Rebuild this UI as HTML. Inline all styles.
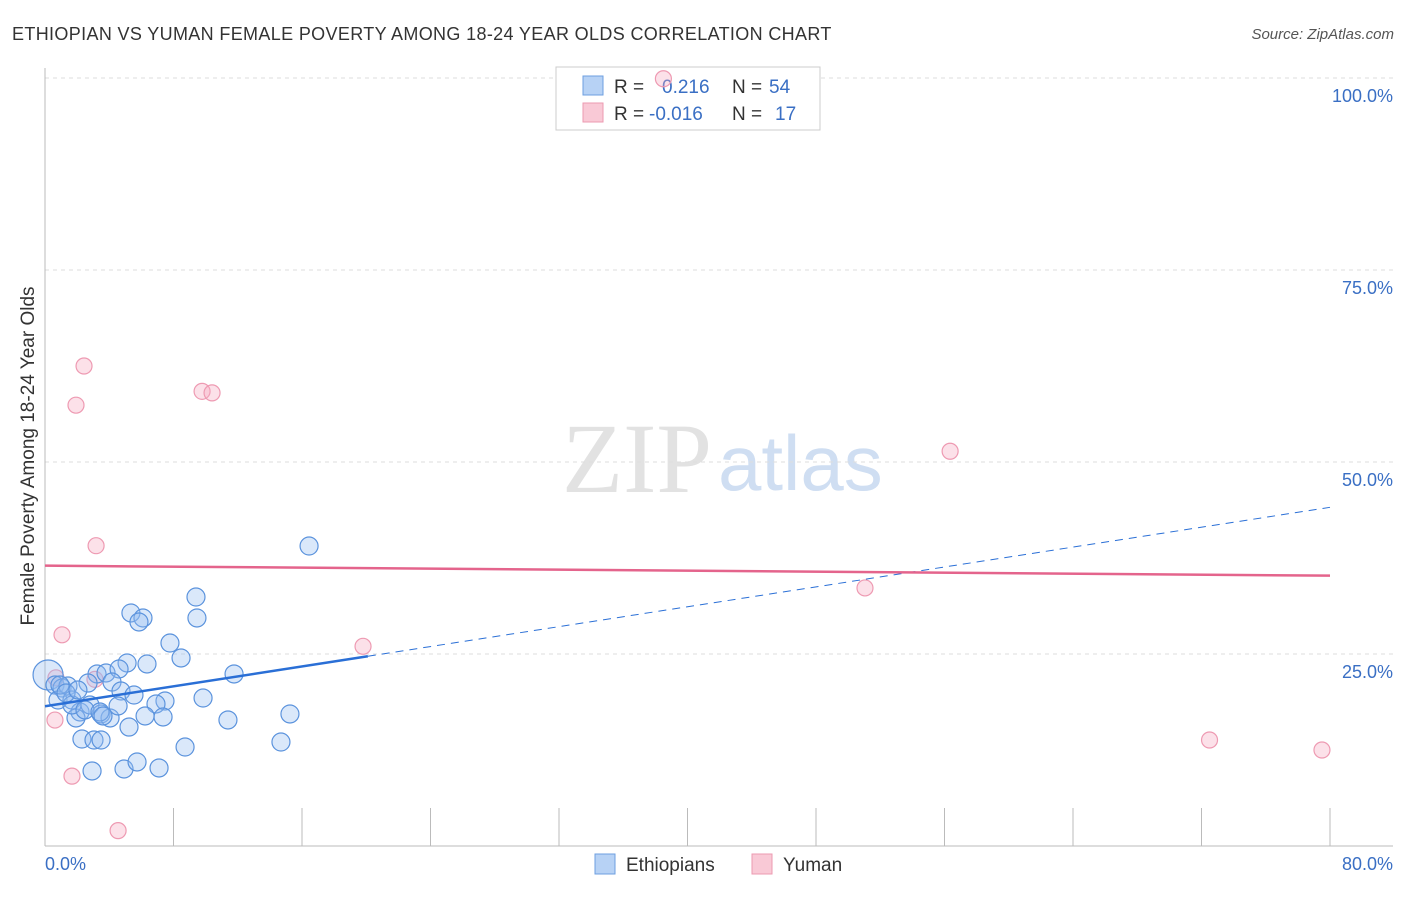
<!DOCTYPE html>
<html><head><meta charset="utf-8"><style>
body{margin:0;background:#fff;font-family:"Liberation Sans",sans-serif}
</style></head><body>
<svg width="1406" height="892" xmlns="http://www.w3.org/2000/svg" id="chart" font-family="Liberation Sans, sans-serif">
<text x="12" y="40" font-size="18" fill="#333" letter-spacing="0.35">ETHIOPIAN VS YUMAN FEMALE POVERTY AMONG 18-24 YEAR OLDS CORRELATION CHART</text>
<text x="1394" y="39" font-size="15" fill="#555" text-anchor="end" font-style="italic">Source: ZipAtlas.com</text>
<text x="712" y="492" font-size="100" fill="#e2e2e2" text-anchor="end" font-family="Liberation Serif, serif">ZIP</text>
<text x="718" y="490" font-size="78" fill="#cfdef2">atlas</text>
<g id="grid"></g><g id="axes"></g>
<text transform="translate(34,456) rotate(-90)" font-size="19" fill="#333" text-anchor="middle">Female Poverty Among 18-24 Year Olds</text>
<g>
<rect x="556" y="67" width="264" height="63" fill="#fff" stroke="#ccc"/>
<rect x="583" y="76" width="20" height="19" fill="#b7d2f5" stroke="#6e9fe0"/>
<rect x="583" y="103" width="20" height="19" fill="#f9c9d6" stroke="#ec9ab0"/>
<text x="614" y="93" font-size="19" fill="#333">R = <tspan fill="#3a6fc4" x="662">0.216</tspan><tspan fill="#333" x="732">N = </tspan><tspan fill="#3a6fc4" x="769">54</tspan></text>
<text x="614" y="120" font-size="19" fill="#333">R = <tspan fill="#3a6fc4" x="649">-0.016</tspan><tspan fill="#333" x="732">N = </tspan><tspan fill="#3a6fc4" x="775">17</tspan></text>
</g>
<g id="marks"></g>
<g>
<rect x="595" y="854" width="20" height="20" fill="#b7d2f5" stroke="#6e9fe0"/>
<text x="626" y="871" font-size="19" fill="#333">Ethiopians</text>
<rect x="752" y="854" width="20" height="20" fill="#f9c9d6" stroke="#ec9ab0"/>
<text x="783" y="871" font-size="19" fill="#333">Yuman</text>
</g>
</svg>
<script>
const blueX=[16.44,9.40,5.35,6.10,5.85,9.46,7.78,8.47,6.35,5.11,3.24,3.80,4.61,4.17,4.73,5.54,7.47,6.91,9.84,11.77,0.19,0.62,1.06,1.43,0.81,1.68,2.68,2.18,2.80,3.49,4.05,4.55,6.23,7.35,5.23,2.30,3.05,3.49,11.39,15.25,8.72,14.69,2.93,4.92,5.73,7.10,1.93,1.68,0.93,2.49,1.31,2.05,3.42,3.61];
const blueY=[39.06,32.42,30.34,29.69,29.17,29.69,26.43,24.48,23.70,23.83,22.40,22.53,23.05,21.35,20.18,19.66,18.88,18.49,19.27,22.40,22.27,20.96,20.57,20.83,19.01,19.01,21.22,17.45,18.36,17.19,16.67,18.23,16.93,16.80,15.49,13.93,13.80,13.80,16.41,17.19,12.89,13.54,9.77,10.03,10.94,10.16,16.67,18.36,20.96,17.71,19.92,20.31,17.45,16.93];
const pinkX=[2.43,1.93,9.78,10.40,56.35,3.18,51.05,1.06,19.80,3.11,0.68,0.62,1.68,4.55,72.5,79.5,38.5];
const pinkY=[62.5,57.4,59.2,59.0,51.4,39.1,33.6,27.5,26.0,21.7,21.9,16.4,9.1,2.0,13.8,12.5,99.9];
const yTicks=[25,50,75,100];
const yTickLabels=["25.0%","50.0%","75.0%","100.0%"];
const xTicks=[0,8,16,24,32,40,48,56,64,72,80];
const blueTrend=[18.2,44.1];
const pinkTrend=[36.5,35.2];
const NS="http://www.w3.org/2000/svg";
const X=v=>45+v/80*1285, Y=v=>846-v/100*768;
function mk(t,a,p){const e=document.createElementNS(NS,t);for(const k in a)e.setAttribute(k,a[k]);document.getElementById(p).appendChild(e);return e;}
yTicks.forEach((t,i)=>{
 const l=mk('line',{x1:45,x2:1393,y1:Y(t),y2:Y(t),stroke:'#ddd','stroke-dasharray':'4,4'},'grid');
 
 
 const tx=mk('text',{x:1393,y:Y(t)+24,'font-size':18,fill:'#3a6fc4','text-anchor':'end'},'grid');
 tx.textContent=yTickLabels[i];
 
 
});
let ax=mk('line',{x1:45,x2:45,y1:68,y2:846,stroke:'#bbb'},'axes');


ax=mk('line',{x1:45,x2:1393,y1:846,y2:846,stroke:'#bbb'},'axes');


xTicks.forEach(t=>{const l=mk('line',{x1:X(t),x2:X(t),y1:808,y2:846,stroke:'#bbb'},'axes');
 
 });
let t0=mk('text',{x:45,y:870,'font-size':18,fill:'#3a6fc4'},'axes');t0.textContent='0.0%';


t0=mk('text',{x:1393,y:870,'font-size':18,fill:'#3a6fc4','text-anchor':'end'},'axes');t0.textContent='80.0%';


pinkX.forEach((x,i)=>{const c=mk('circle',{cx:X(x),cy:Y(pinkY[i]),r:8,fill:'rgba(246,170,192,0.35)',stroke:'#ee9ab2','stroke-width':1.2},'marks');
 
 });
blueX.forEach((x,i)=>{const c=mk('circle',{cx:X(x),cy:Y(blueY[i]),r:i==20?15:9,fill:'rgba(150,190,240,0.35)',stroke:'#5b93dd','stroke-width':1.2},'marks');
 
 });
const bAt=v=>blueTrend[0]+(blueTrend[1]-blueTrend[0])*v/80;
let tl=mk('line',{x1:X(0),y1:Y(bAt(0)),x2:X(20.1),y2:Y(bAt(20.1)),stroke:'#2a6fd6','stroke-width':2.5},'marks');


tl=mk('line',{x1:X(20.1),y1:Y(bAt(20.1)),x2:X(80),y2:Y(bAt(80)),stroke:'#2a6fd6','stroke-width':1,'stroke-dasharray':'8,6'},'marks');


tl=mk('line',{x1:X(0),y1:Y(pinkTrend[0]),x2:X(80),y2:Y(pinkTrend[1]),stroke:'#e4648c','stroke-width':2.5},'marks');


</script>
</body></html>
